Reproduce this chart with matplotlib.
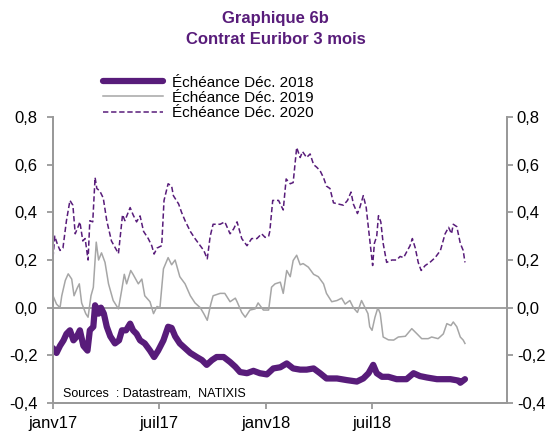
import numpy as np
import pandas as pd
import matplotlib
matplotlib.use('Agg')
import matplotlib.pyplot as plt
from matplotlib.ticker import FuncFormatter

plt.rcParams['font.family'] = ['Liberation Sans', 'DejaVu Sans']

start = pd.Timestamp('2017-01-01')

# Échéance Déc. 2018 (days since 2017-01-01, value)
days_2018 = [0, 6, 12, 18, 23, 29, 35, 41, 46, 52, 59, 63, 69, 72, 78, 82, 87, 92, 98, 106,
             113, 118, 125, 132, 137, 143, 149, 157, 166, 173, 180, 189, 197, 203, 209, 217,
             226, 235, 246, 255, 263, 272, 280, 292, 303, 312, 320, 332, 343, 354, 366, 377,
             389, 400, 411, 423, 434, 446, 457, 468, 486, 503, 520, 531, 540, 548, 554, 563,
             574, 588, 605, 617, 628, 640, 657, 680, 694, 697, 705]
vals_2018 = [-0.17, -0.19, -0.16, -0.137, -0.11, -0.095, -0.137, -0.12, -0.095, -0.16, -0.18,
             -0.095, -0.08, 0.01, -0.025, 0.0, -0.025, -0.08, -0.12, -0.15, -0.137, -0.095,
             -0.095, -0.067, -0.095, -0.11, -0.137, -0.15, -0.18, -0.207, -0.18, -0.137, -0.08,
             -0.085, -0.12, -0.15, -0.17, -0.19, -0.207, -0.22, -0.24, -0.22, -0.207, -0.207,
             -0.228, -0.248, -0.27, -0.275, -0.265, -0.275, -0.28, -0.255, -0.25, -0.234,
             -0.255, -0.26, -0.26, -0.255, -0.275, -0.297, -0.297, -0.304, -0.31, -0.297,
             -0.275, -0.24, -0.275, -0.29, -0.29, -0.30, -0.30, -0.275, -0.287, -0.293, -0.30,
             -0.30, -0.306, -0.315, -0.30]

# Échéance Déc. 2019
days_2019 = [0, 6, 12, 15, 21, 26, 32, 36, 41, 45, 49, 56, 60, 65, 69, 74, 78, 83, 89, 95,
             103, 112, 118, 122, 126, 133, 137, 146, 152, 157, 166, 172, 178, 183, 189, 197,
             203, 209, 217, 226, 235, 243, 252, 258, 264, 270, 274, 286, 294, 303, 312, 315,
             323, 329, 337, 346, 351, 360, 369, 374, 380, 389, 394, 400, 406, 411, 417, 423,
             428, 437, 446, 454, 463, 468, 477, 486, 494, 500, 508, 514, 521, 528, 534, 539,
             542, 546, 551, 556, 560, 565, 574, 583, 591, 603, 614, 623, 631, 642, 648, 659,
             668, 674, 681, 685, 691, 697, 702, 705]
vals_2019 = [0.05, 0.015, 0.0, 0.05, 0.114, 0.142, 0.12, 0.05, 0.08, 0.10, 0.02, -0.025,
             -0.04, 0.05, 0.085, 0.275, 0.20, 0.23, 0.19, 0.10, 0.03, -0.005, 0.08, 0.14, 0.10,
             0.156, 0.14, 0.10, 0.12, 0.05, 0.025, -0.025, 0.005, 0.0, 0.163, 0.21, 0.18, 0.20,
             0.13, 0.10, 0.05, 0.02, 0.0, -0.025, -0.053, 0.015, 0.05, 0.06, 0.06, 0.025, 0.04,
             0.025, -0.02, -0.04, -0.01, -0.005, 0.02, -0.01, -0.01, 0.086, 0.10, 0.107, 0.06,
             0.156, 0.13, 0.198, 0.22, 0.18, 0.185, 0.17, 0.14, 0.13, 0.10, 0.06, 0.025, 0.03,
             0.04, 0.015, 0.03, 0.0, -0.02, 0.03, 0.0, -0.025, -0.08, -0.095, -0.04, 0.0,
             -0.025, -0.123, -0.135, -0.136, -0.123, -0.12, -0.088, -0.11, -0.13, -0.13,
             -0.123, -0.13, -0.11, -0.067, -0.075, -0.06, -0.08, -0.123, -0.136, -0.15]

# Échéance Déc. 2020
days_2020 = [0, 3, 7, 12, 17, 23, 29, 34, 38, 43, 46, 51, 55, 60, 63, 68, 72, 75, 80, 86,
             92, 100, 112, 119, 123, 132, 137, 143, 149, 155, 163, 169, 173, 178, 186, 190,
             197, 203, 206, 215, 220, 226, 235, 243, 252, 258, 264, 269, 274, 286, 294, 303,
             309, 315, 323, 332, 340, 349, 357, 363, 369, 371, 376, 386, 394, 399, 406, 411,
             417, 423, 427, 434, 440, 446, 451, 457, 463, 468, 474, 480, 488, 497, 504, 510,
             514, 521, 525, 531, 536, 540, 547, 550, 554, 557, 561, 565, 571, 580, 588, 594,
             600, 605, 611, 615, 620, 625, 630, 637, 645, 654, 663, 671, 677, 682, 685, 691,
             697, 702, 705]
vals_2020 = [0.21, 0.30, 0.27, 0.24, 0.25, 0.365, 0.45, 0.43, 0.31, 0.34, 0.36, 0.28, 0.29,
             0.20, 0.365, 0.36, 0.546, 0.50, 0.49, 0.46, 0.365, 0.28, 0.227, 0.39, 0.365, 0.42,
             0.39, 0.36, 0.385, 0.32, 0.29, 0.26, 0.225, 0.25, 0.26, 0.45, 0.52, 0.51, 0.47,
             0.435, 0.40, 0.365, 0.32, 0.29, 0.26, 0.24, 0.205, 0.30, 0.35, 0.35, 0.36, 0.31,
             0.33, 0.36, 0.29, 0.26, 0.29, 0.29, 0.31, 0.295, 0.30, 0.32, 0.45, 0.45, 0.41,
             0.54, 0.52, 0.525, 0.672, 0.63, 0.655, 0.63, 0.645, 0.60, 0.59, 0.575, 0.545,
             0.51, 0.50, 0.44, 0.435, 0.43, 0.45, 0.485, 0.435, 0.395, 0.42, 0.47, 0.42, 0.33,
             0.177, 0.27, 0.30, 0.386, 0.36, 0.27, 0.19, 0.20, 0.20, 0.215, 0.21, 0.233, 0.26,
             0.29, 0.25, 0.19, 0.156, 0.177, 0.19, 0.21, 0.24, 0.31, 0.337, 0.31, 0.35, 0.34,
             0.27, 0.24, 0.19]

tick_dates = ['2017-01-01', '2017-07-01', '2018-01-01', '2018-07-01']
tick_labels = ['janv17', 'juil17', 'janv18', 'juil18']
labels = ['Échéance Déc. 2018', 'Échéance Déc. 2019', 'Échéance Déc. 2020']

purple = '#581c7a'
grey = '#a6a6a6'
axis_grey = '#999999'


def to_dates(days):
    return start + pd.to_timedelta(days, unit='D')


fig = plt.figure(figsize=(5.51, 4.34), dpi=100)
ax = fig.add_axes([0.0962, 0.0714, 0.8240, 0.6590])

ax.axhline(0, color=axis_grey, lw=1.3, zorder=1)
l1, = ax.plot(to_dates(days_2018), vals_2018, color=purple, lw=4.5, solid_capstyle='round',
              solid_joinstyle='round', label=labels[0], zorder=3)
l2, = ax.plot(to_dates(days_2019), vals_2019, color=grey, lw=1.1, label=labels[1], zorder=2)
l3, = ax.plot(to_dates(days_2020), vals_2020, color=purple, lw=1.1, ls=(0, (3.5, 1.8)),
              label=labels[2], zorder=2)

ax.set_xlim(start, start + pd.Timedelta(days=777))
ax.set_ylim(-0.4, 0.8)
ax.set_yticks(np.arange(-0.4, 0.81, 0.2))
fmt = FuncFormatter(lambda v, p: f"{v:.1f}".replace('.', ',').replace('-0,0', '0,0'))
ax.yaxis.set_major_formatter(fmt)
ax.set_xticks(pd.to_datetime(tick_dates))
ax.set_xticklabels(tick_labels)

ax2 = ax.twinx()
ax2.set_ylim(-0.4, 0.8)
ax2.set_yticks(np.arange(-0.4, 0.81, 0.2))
ax2.yaxis.set_major_formatter(fmt)

for a in (ax, ax2):
    a.spines['top'].set_visible(False)
    for s in ('left', 'right', 'bottom'):
        a.spines[s].set_color(axis_grey)
        a.spines[s].set_linewidth(1.3)
    a.tick_params(axis='both', colors=axis_grey, labelcolor='black', labelsize=12,
                  length=4, width=1.3, direction='out', pad=3)
ax.tick_params(axis='y', pad=7)
ax.tick_params(axis='x', pad=5)

fig.legend(handles=[l1, l2, l3], loc='upper left', bbox_to_anchor=(0.187, 0.826),
           frameon=False, fontsize=11, handlelength=3.9, labelspacing=0.08,
           handletextpad=0.6, borderpad=0, borderaxespad=0)

fig.text(0.5, 0.958, 'Graphique 6b', ha='center', va='center', fontsize=12,
         fontweight='bold', color=purple)
fig.text(0.5, 0.910, 'Contrat Euribor 3 mois', ha='center', va='center', fontsize=12,
         fontweight='bold', color=purple)
ax.text(0.022, 0.033, 'Sources  : Datastream,  NATIXIS', transform=ax.transAxes,
        fontsize=9, ha='left', va='center')

fig.savefig('out.png', dpi=100)
